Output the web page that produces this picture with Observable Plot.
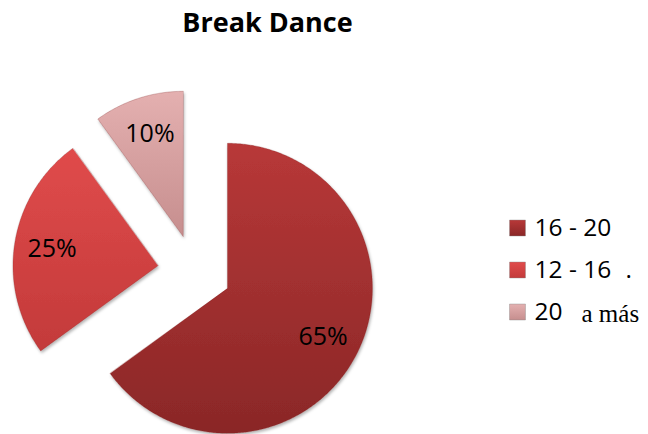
<!DOCTYPE html>
<html>
<head>
<meta charset="utf-8">
<script src="https://cdn.jsdelivr.net/npm/d3@7"></script>
<script src="https://cdn.jsdelivr.net/npm/@observablehq/plot@0.6"></script>
<style>
  html, body { margin: 0; padding: 0; background: #fff; }
  #chart { width: 648px; height: 434px; }
</style>
</head>
<body>
<div id="chart"></div>
<script>
// ---- data ----
const title = "Break Dance";
const categories = ["16 - 20", "12 - 16 .", "20 a más"];
const values = [65, 25, 10];
const sliceLabels = ["65%", "25%", "10%"];
const legendMain = ["16 - 20", "12 - 16", "20"];
const legendSuffix = ["", ".", "a más"];
const colors = ["url(#gDark)", "url(#gMid)", "url(#gLight)"];

// ---- layout ----
const W = 648, H = 434;
const cxPx = 194, cyPx = 271, rPx = 145;   // pie centre / radius in pixels
const explode = 0.255;                      // fraction of radius
const toX = px => (px - cxPx) / rPx;
const toY = py => (cyPx - py) / rPx;

const pie = d3.pie().sort(null).value(d => d.value)(
  categories.map((c, i) => ({cat: c, value: values[i], label: sliceLabels[i]}))
);

const polys = [];
const labelPts = [];
pie.forEach(s => {
  const m = (s.startAngle + s.endAngle) / 2;
  const ox = explode * Math.sin(m), oy = explode * Math.cos(m);
  polys.push({cat: s.data.cat, x: ox, y: oy});
  const n = Math.max(8, Math.ceil((s.endAngle - s.startAngle) / 0.01));
  for (let k = 0; k <= n; k++) {
    const a = s.startAngle + (s.endAngle - s.startAngle) * k / n;
    polys.push({cat: s.data.cat, x: ox + Math.sin(a), y: oy + Math.cos(a)});
  }
  labelPts.push({text: s.data.label, x: ox + 0.74 * Math.sin(m), y: oy + 0.74 * Math.cos(m)});
});

const legendRows = categories.map((c, i) => ({
  cat: c, main: legendMain[i], suffix: legendSuffix[i], y: toY(227.5 + 42 * i),
  sx: toX([0, 625, 581][i]), serif: i === 2
}));

function defs() {
  const d = d3.create("svg:defs");
  const grads = [
    ["gDark", "#B83838", "#8A2727"],
    ["gMid", "#E04B4B", "#C33A3A"],
    ["gLight", "#E4B0B0", "#C68E8E"]
  ];
  grads.forEach(([id, a, b]) => {
    const g = d.append("linearGradient").attr("id", id)
      .attr("x1", 0).attr("y1", 0).attr("x2", 0).attr("y2", 1);
    g.append("stop").attr("offset", "0%").attr("stop-color", a);
    g.append("stop").attr("offset", "100%").attr("stop-color", b);
  });
  const f = d.append("filter").attr("id", "shadow").attr("x", "-10%").attr("y", "-10%")
    .attr("width", "130%").attr("height", "130%");
  f.append("feDropShadow").attr("dx", 1).attr("dy", 2).attr("stdDeviation", 1.5)
    .attr("flood-color", "#000").attr("flood-opacity", 0.3);
  return d.node();
}

const chart = Plot.plot({
  width: W, height: H,
  margin: 0,
  x: {domain: [toX(0), toX(W)], range: [0, W], axis: null},
  y: {domain: [toY(H), toY(0)], range: [H, 0], axis: null},
  color: {domain: categories, range: colors},
  style: {background: "#fff"},
  marks: [
    defs,
    Plot.line(polys, {
      x: "x", y: "y", z: "cat", fill: "cat", stroke: "#7a2020", strokeOpacity: 0.25,
      strokeWidth: 1, curve: "linear-closed"
    }),
    Plot.text(labelPts, {
      x: "x", y: "y", text: "text", fontSize: 25, fill: "#000",
      fontFamily: "Open Sans, sans-serif"
    }),
    Plot.text([title], {
      x: toX(267), y: toY(23), text: d => d, fontSize: 27, fontWeight: "bold",
      fill: "#000", fontFamily: "Open Sans, sans-serif"
    }),
    Plot.dot(legendRows, {
      x: toX(517), y: "y", fill: "cat", symbol: "square", r: 9,
      stroke: "#888", strokeOpacity: 0.4, strokeWidth: 1
    }),
    Plot.text(legendRows, {
      x: toX(534), y: "y", text: "main", textAnchor: "start", fontSize: 24.5,
      fill: "#000", fontFamily: "Open Sans, sans-serif"
    }),
    Plot.text(legendRows.filter(d => !d.serif), {
      x: "sx", y: "y", text: "suffix", textAnchor: "start",
      fontSize: 24.5, fill: "#000", fontFamily: "Open Sans, sans-serif"
    }),
    Plot.text(legendRows.filter(d => d.serif), {
      x: "sx", y: "y", dy: 2, text: "suffix", textAnchor: "start",
      fontSize: 25, fill: "#000", fontFamily: "Liberation Serif, serif"
    })
  ]
});
chart.querySelectorAll("g[aria-label='line'] path").forEach(p => p.setAttribute("filter", "url(#shadow)"));
document.getElementById("chart").appendChild(chart);
</script>
</body>
</html>
